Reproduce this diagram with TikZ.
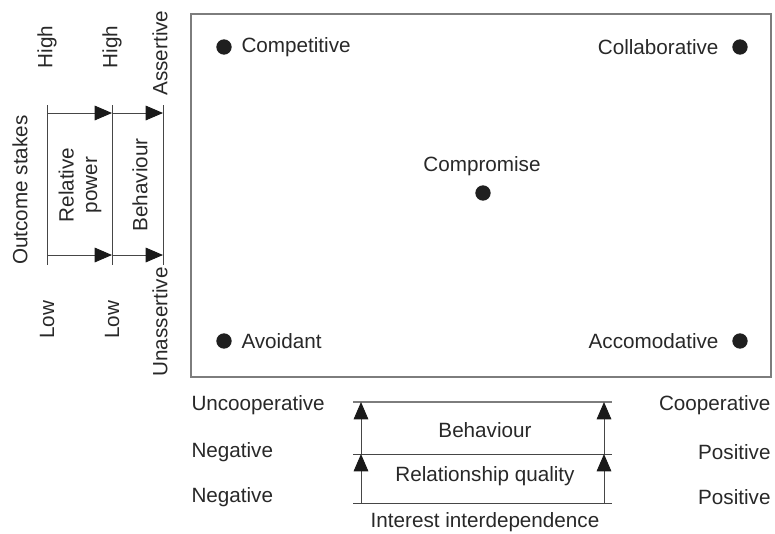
\documentclass[tikz,border=0pt]{standalone}
\usepackage{fontspec}
\setmainfont{Liberation Sans}
\usetikzlibrary{arrows.meta}

\definecolor{txtgray}{RGB}{40,40,40}
\definecolor{linegray}{RGB}{70,70,70}
\definecolor{boxgray}{RGB}{125,125,125}

\tikzset{every picture/.style={line width=0.75pt},
  lbl/.style={inner sep=0.75pt, font=\fontsize{15.5}{17.5}\selectfont, text=txtgray},
  vlbl/.style={lbl, rotate=90},
  dot/.style={circle, fill=black!88, inner sep=0pt, minimum size=11.5pt},
  arr/.style={draw=linegray, -{Triangle[length=13pt,width=11pt,color=black!90,fill=black!90]}},
  rule/.style={draw=linegray}}

\begin{document}
\begin{tikzpicture}[x=0.75pt,y=0.75pt,yscale=-1,xscale=1]
\useasboundingbox (0,0) rectangle (775,533);

%Shape: Rectangle [id:grid]
\draw [boxgray, line width=1pt] (191,14) rectangle (771,377);

%Shape: Circle [id:styles]
\node [dot] (compet) at (224,47) {};
\node [dot] (collab) at (740,47) {};
\node [dot] (compro) at (483,193) {};
\node [dot] (avoid) at (224,341) {};
\node [dot] (accom) at (740,341) {};

% Text Node
\node [lbl, anchor=west] (competT) at (240,47) {Competitive};
% Text Node
\node [lbl, anchor=east] (collabT) at (720,47) {Collaborative};
% Text Node
\node [lbl] (comproT) at (482,166) {Compromise};
% Text Node
\node [lbl, anchor=west] (avoidT) at (240,341) {Avoidant};
% Text Node
\node [lbl, anchor=east] (accomT) at (720,341) {Accomodative};

%Straight Lines [id:left scale]
\coordinate (sA) at (47,105);  \coordinate (sB) at (47,265);
\coordinate (pA) at (112,105); \coordinate (pB) at (112,265);
\coordinate (bA) at (163,105); \coordinate (bB) at (163,265);
\coordinate (sHi) at (47,113);  \coordinate (sLo) at (47,255);
\coordinate (pHi) at (112,113); \coordinate (pLo) at (112,255);
\coordinate (bHi) at (163,113); \coordinate (bLo) at (163,255);
\draw [rule] (sA) -- (sB);
\draw [rule] (pA) -- (pB);
\draw [rule] (bA) -- (bB);
\draw [arr] (sHi) -- (pHi);
\draw [arr] (pHi) -- (bHi);
\draw [arr] (sLo) -- (pLo);
\draw [arr] (pLo) -- (bLo);

% Text Node
\node [vlbl] (hi1) at (47,47) {High};
\node [vlbl] (hi2) at (112,47) {High};
\node [vlbl] (asrt) at (160,53) {Assertive};
\node [vlbl] (stakes) at (20,190) {Outcome stakes};
\node [vlbl, align=center] (power) at (80,185) {Relative\\power};
\node [vlbl] (behavL) at (140,185) {Behaviour};
\node [vlbl] (lo1) at (47,320) {Low};
\node [vlbl] (lo2) at (112,320) {Low};
\node [vlbl] (unasrt) at (160,322) {Unassertive};

%Straight Lines [id:bottom scale]
\coordinate (tA) at (353,402); \coordinate (tB) at (612,402);
\coordinate (mA) at (353,454); \coordinate (mB) at (612,454);
\coordinate (uA) at (353,503); \coordinate (uB) at (612,503);
\coordinate (lTop) at (361,402); \coordinate (lMid) at (361,454); \coordinate (lBot) at (361,503);
\coordinate (rTop) at (604,402); \coordinate (rMid) at (604,454); \coordinate (rBot) at (604,503);
\draw [draw=boxgray, line width=1pt] (tA) -- (tB);
\draw [rule] (mA) -- (mB);
\draw [rule] (uA) -- (uB);
\draw [arr] (lBot) -- (lMid);
\draw [arr] (lMid) -- (lTop);
\draw [arr] (rBot) -- (rMid);
\draw [arr] (rMid) -- (rTop);

% Text Node
\node [lbl, anchor=west] (uncoop) at (190,405) {Uncooperative};
\node [lbl, anchor=west] (neg1) at (190,452) {Negative};
\node [lbl, anchor=west] (neg2) at (190,497) {Negative};
\node [lbl, anchor=east] (coop) at (772,405) {Cooperative};
\node [lbl, anchor=east] (pos1) at (772,452) {Positive};
\node [lbl, anchor=east] (pos2) at (772,497) {Positive};
\node [lbl] (behavB) at (485,430) {Behaviour};
\node [lbl] (relq) at (485,476) {Relationship quality};
\node [lbl] (inter) at (485,522) {Interest interdependence};

\end{tikzpicture}
\end{document}
